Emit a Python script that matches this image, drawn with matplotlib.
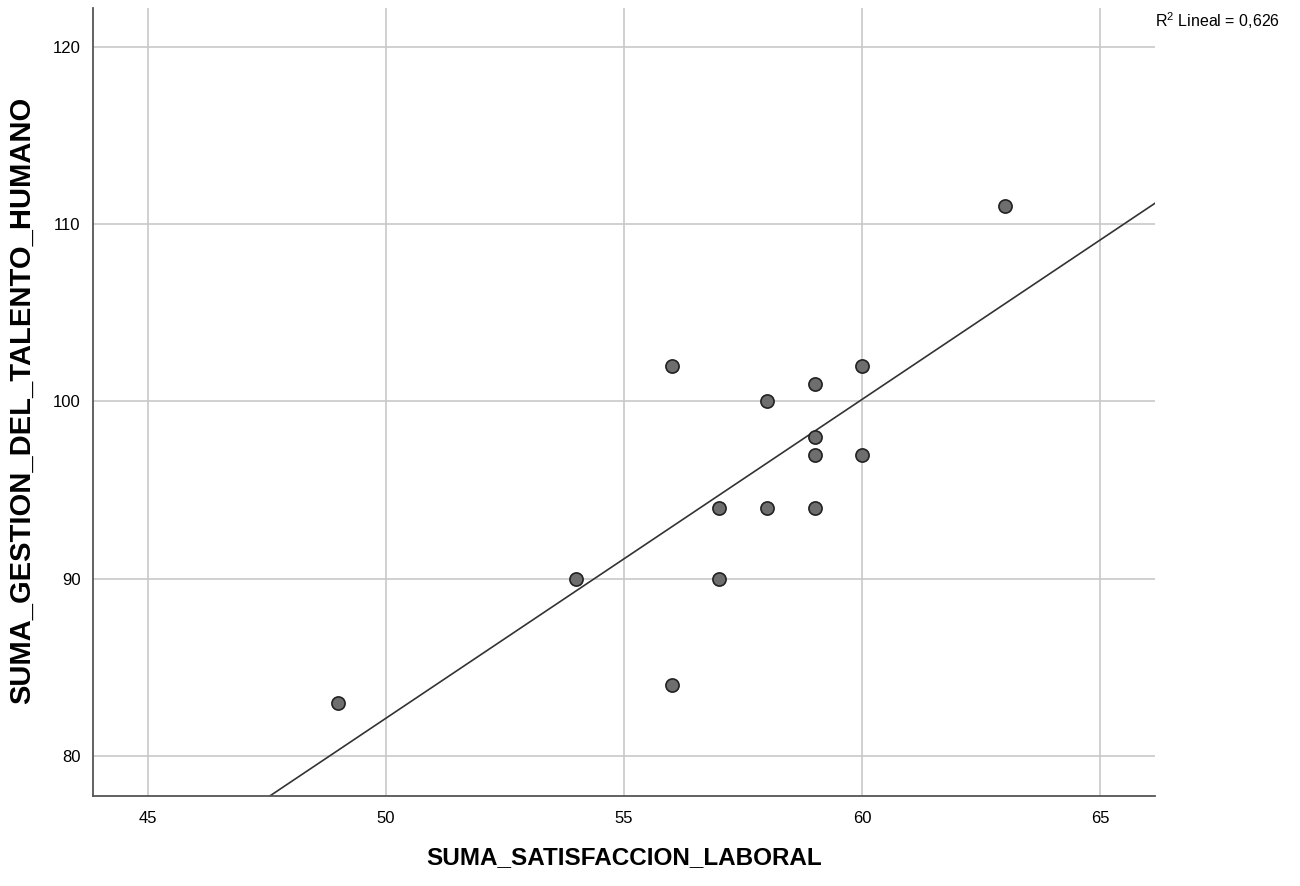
import numpy as np
import matplotlib
matplotlib.use("Agg")
import matplotlib.pyplot as plt

satisfaccion = [49, 54, 56, 56, 57, 57, 58, 58, 59, 59, 59, 59, 60, 60, 63]
gestion = [83, 90, 102, 84, 94, 90, 100, 94, 101, 98, 97, 94, 102, 97, 111]
x_ticks = [45, 50, 55, 60, 65]
y_ticks = [80, 90, 100, 110, 120]
r2_label = "R$^2$ Lineal = 0,626"

plt.rcParams["font.family"] = ["Liberation Sans", "DejaVu Sans"]
plt.rcParams["mathtext.fontset"] = "custom"
plt.rcParams["mathtext.rm"] = "Liberation Sans"

fig = plt.figure(figsize=(13, 8.86), dpi=100)
ax = fig.add_axes([0.0715, 0.1016, 0.817, 0.8894])

x = np.array(satisfaccion, dtype=float)
y = np.array(gestion, dtype=float)
ax.set_xlim(43.85, 66.15)
ax.set_ylim(77.74, 122.2)

ax.grid(True, color="#c8c8c8", linewidth=1.2)
ax.set_axisbelow(True)

slope, intercept = np.polyfit(x, y, 1)
xl = np.array([43.85, 66.15])
ax.plot(xl, slope * xl + intercept, color="#333333", linewidth=1.2, zorder=2)

ax.scatter(x, y, s=90, c="#6e6e6e", edgecolors="#222222", linewidths=1.2, zorder=3)

for s in ["top", "right"]:
    ax.spines[s].set_visible(False)
for s in ["left", "bottom"]:
    ax.spines[s].set_color("#555555")
    ax.spines[s].set_linewidth(1.3)

ax.set_xticks(x_ticks)
ax.set_yticks(y_ticks)
ax.tick_params(length=0, labelsize=12)
ax.tick_params(axis="x", pad=11)
ax.tick_params(axis="y", pad=9)

fig.text(624 / 1300, 1 - 858 / 886, "SUMA_SATISFACCION_LABORAL", fontsize=17.5,
         fontweight="bold", ha="center", va="center")
fig.text(22 / 1300, 1 - 400 / 886, "SUMA_GESTION_DEL_TALENTO_HUMANO", fontsize=21,
         fontweight="bold", ha="center", va="center", rotation=90)

fig.text(1155 / 1300, 1 - 21 / 886, r2_label, fontsize=11.5,
         ha="left", va="center")

fig.savefig("out.png", dpi=100)
